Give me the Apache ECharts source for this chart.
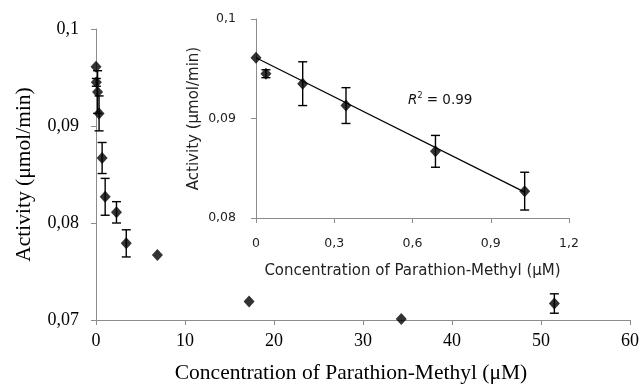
<!DOCTYPE html>
<html><head><meta charset="utf-8">
<script src="https://cdn.jsdelivr.net/npm/echarts@6/dist/echarts.min.js"></script>
<style>html,body{margin:0;padding:0;background:#fff}#c{width:642px;height:389px}</style>
</head><body><div id="c"></div>
<script>
// Data
const concentration = [0, 0.038, 0.179, 0.345, 0.688, 1.03, 2.3, 3.4, 6.9, 17.2, 34.3, 51.5];
const activity      = [0.0961, 0.0945, 0.0935, 0.0913, 0.0867, 0.0827, 0.0811, 0.0779, 0.0767, 0.0719, 0.0701, 0.0717];
const activityError = [0, 0.0004, 0.0022, 0.0018, 0.0016, 0.0019, 0.0011, 0.0014, 0, 0, 0, 0.0010];
const insetPointCount = 6;
const trendX = [0, 1.03];
const trendY = [0.0961, 0.0826];
const mainXTicks = [0, 10, 20, 30, 40, 50, 60];
const mainYTicks = [0.07, 0.08, 0.09, 0.1];
const insetXTicks = [0, 0.3, 0.6, 0.9, 1.2];
const insetYTicks = [0.08, 0.09, 0.1];
const rSquaredText = '0.99';

const fmt = v => String(+(+v).toFixed(3)).replace('.', ',');

const mainPts = concentration.map((x, i) => [x, activity[i]]);
const mainErr = concentration.map((x, i) => [x, activity[i] - activityError[i], activity[i] + activityError[i]]).filter((d, i) => activityError[i] > 0);
const insetPts = mainPts.slice(0, insetPointCount);
const insetErr = concentration.slice(0, insetPointCount).map((x, i) => [x, activity[i] - activityError[i], activity[i] + activityError[i]]).filter((d, i) => activityError[i] > 0);
const trend = trendX.map((x, i) => [x, trendY[i]]);

function errRender(params, api) {
  const x = api.value(0), lo = api.value(1), hi = api.value(2);
  const p1 = api.coord([x, hi]), p2 = api.coord([x, lo]);
  const w = 4.5;
  const style = { stroke: '#000', lineWidth: 1.4 };
  return { type: 'group', children: [
    { type: 'line', shape: { x1: p1[0], y1: p1[1], x2: p2[0], y2: p2[1] }, style },
    { type: 'line', shape: { x1: p1[0] - w, y1: p1[1], x2: p1[0] + w, y2: p1[1] }, style },
    { type: 'line', shape: { x1: p2[0] - w, y1: p2[1], x2: p2[0] + w, y2: p2[1] }, style }
  ]};
}

const axisLine = { show: true, lineStyle: { color: '#8c8c8c', width: 1 } };
const axisTick = { show: true, length: 5, lineStyle: { color: '#8c8c8c', width: 1 } };
const serif = 'Liberation Serif';
const sans = 'DejaVu Sans';

const chart = echarts.init(document.getElementById('c'), null, { renderer: 'canvas' });
chart.setOption({
  animation: false,
  backgroundColor: '#fff',
  grid: [
    { left: 96, top: 29, width: 535, height: 294 },
    { left: 256, top: 19, width: 313, height: 199 }
  ],
  xAxis: [
    { gridIndex: 0, type: 'value', min: mainXTicks[0], max: mainXTicks[mainXTicks.length - 1], interval: mainXTicks[1] - mainXTicks[0],
      axisLine, axisTick, splitLine: { show: false },
      axisLabel: { margin: 12, color: '#000', fontFamily: serif, fontSize: 18 },
      name: 'Concentration of Parathion-Methyl (μM)', nameLocation: 'middle', nameGap: 42,
      nameTextStyle: { color: '#000', fontFamily: serif, fontSize: 21.5, padding: [0, 24, 0, 0] } },
    { gridIndex: 1, type: 'value', min: insetXTicks[0], max: insetXTicks[insetXTicks.length - 1], interval: 0.3,
      axisLine, axisTick, splitLine: { show: false },
      axisLabel: { margin: 19, color: '#222', fontFamily: sans, fontSize: 12.5, formatter: fmt },
      name: 'Concentration of Parathion-Methyl (μM)', nameLocation: 'middle', nameGap: 46,
      nameTextStyle: { color: '#222', fontFamily: sans, fontSize: 15 } }
  ],
  yAxis: [
    { gridIndex: 0, type: 'value', min: mainYTicks[0], max: mainYTicks[mainYTicks.length - 1], interval: 0.01,
      axisLine, axisTick, splitLine: { show: false },
      axisLabel: { margin: 17, color: '#000', fontFamily: serif, fontSize: 18, formatter: fmt },
      name: 'Activity (μmol/min)', nameLocation: 'middle', nameGap: 61,
      nameTextStyle: { color: '#000', fontFamily: serif, fontSize: 21.5 } },
    { gridIndex: 1, type: 'value', min: insetYTicks[0], max: insetYTicks[insetYTicks.length - 1], interval: 0.01,
      axisLine, axisTick, splitLine: { show: false },
      axisLabel: { margin: 20, color: '#222', fontFamily: sans, fontSize: 12.5, formatter: fmt },
      name: 'Activity (μmol/min)', nameLocation: 'middle', nameGap: 54,
      nameTextStyle: { color: '#222', fontFamily: sans, fontSize: 15 } }
  ],
  series: [
    { type: 'custom', xAxisIndex: 0, yAxisIndex: 0, data: mainErr, renderItem: errRender, z: 2 },
    { type: 'scatter', xAxisIndex: 0, yAxisIndex: 0, data: mainPts, symbol: 'diamond', symbolSize: [11, 12],
      itemStyle: { color: '#000' }, z: 3 },
    { type: 'line', xAxisIndex: 1, yAxisIndex: 1, data: trend, symbol: 'none',
      lineStyle: { color: '#000', width: 1.2 }, z: 2 },
    { type: 'custom', xAxisIndex: 1, yAxisIndex: 1, data: insetErr, renderItem: errRender, z: 2 },
    { type: 'scatter', xAxisIndex: 1, yAxisIndex: 1, data: insetPts, symbol: 'diamond', symbolSize: [11, 12],
      itemStyle: { color: '#000' }, z: 3 }
  ],
  graphic: [
    { type: 'text', left: 408, top: 92,
      style: { rich: {
        r: { fontFamily: sans, fontStyle: 'italic', fontSize: 13.5, fill: '#111' },
        s: { fontFamily: sans, fontSize: 8, fill: '#111', verticalAlign: 'top', padding: [0, 0, 8, 0] },
        t: { fontFamily: sans, fontSize: 13.5, fill: '#111' } },
        text: '{r|R}{s|2}{t| = ' + rSquaredText + '}' } }
  ]
});
</script>
</body></html>
